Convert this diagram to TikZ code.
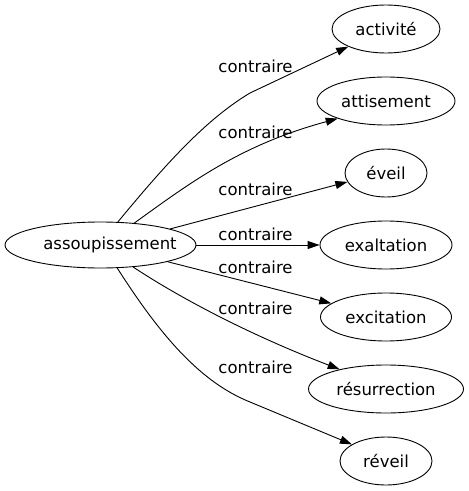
\documentclass[tikz,border=0pt]{standalone}
\usepackage{fontspec}
\setmainfont{DejaVu Sans}
\usetikzlibrary{shapes.geometric,arrows.meta}
\begin{document}
\begin{tikzpicture}[x=1bp,y=-1bp,
  every node/.style={font=\fontsize{16.5bp}{19bp}\selectfont, text=black},
  ell/.style={draw, ellipse, inner sep=0pt, line width=0.9bp, minimum height=48bp},
  lbl/.style={inner sep=0pt, anchor=base},
  conn/.style={draw, line width=0.9bp, -{Triangle[length=12bp,width=8bp]}}]
\useasboundingbox (0,0) rectangle (469,491);
\node[ell, minimum width=191bp, minimum height=46bp] (c) at (100.5,245) {\makebox[0pt]{\hspace{19bp}assoupissement}};
\node[ell, minimum width=108bp] (act) at (386,29) {activité};
\node[ell, minimum width=138bp] (att) at (386,101) {attisement};
\node[ell, minimum width=82bp] (ev) at (386,173) {éveil};
\node[ell, minimum width=132bp] (exa) at (386,245) {exaltation};
\node[ell, minimum width=131bp] (exc) at (386,317) {excitation};
\node[ell, minimum width=155bp] (res) at (386,389) {résurrection};
\node[ell, minimum width=92bp] (rev) at (386,461) {réveil};
\node[lbl] (l1) at (255.5,73) {contraire};
\node[lbl] (l2) at (255.5,139) {contraire};
\node[lbl] (l3) at (255.5,196) {contraire};
\node[lbl] (l4) at (255.5,240) {contraire};
\node[lbl] (l5) at (255.5,273) {contraire};
\node[lbl] (l6) at (255.5,314) {contraire};
\node[lbl] (l7) at (255.5,373) {contraire};
\draw[conn] (c.53.5) .. controls (165,165) and (205,120) .. (250,93) -- (act.205.3);
\draw[conn] (c.33.3) .. controls (190,183) and (240,145) .. (att.200.3);
\draw[conn] (c.13.7) -- (ev.193.3);
\draw[conn] (c.east) -- (exa.west);
\draw[conn] (c.-14.8) -- (exc.166);
\draw[conn] (c.-34.9) .. controls (180,298) and (250,335) .. (res.157.6);
\draw[conn] (c.-54.7) .. controls (160,335) and (200,382) .. (250,402) -- (rev.154.1);
\end{tikzpicture}
\end{document}
